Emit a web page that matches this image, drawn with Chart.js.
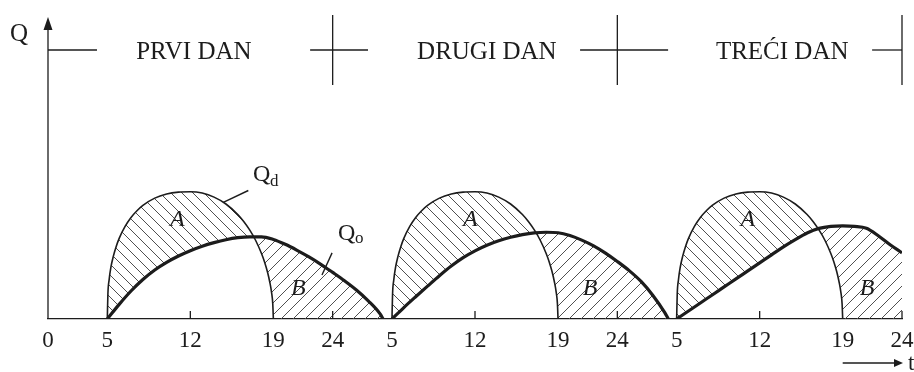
<!DOCTYPE html>
<html><head><meta charset="utf-8">
<script src="https://cdn.jsdelivr.net/npm/chart.js@4.4.1/dist/chart.umd.min.js"></script>
<style>html,body{margin:0;padding:0;background:#fff}canvas{display:block}</style>
</head><body>
<canvas id="c" width="914" height="372"></canvas>
<script>
// ---- data (hours of day, Q in % of the peak of Qd) ----
const dayLabels = ['PRVI DAN', 'DRUGI DAN', 'TREĆI DAN'];
const dayStart = [0, 24, 48];
const tickHours = [0, 5, 12, 19, 24, 29, 36, 43, 48, 53, 60, 67, 72];
const tickLabels = ['0', '5', '12', '19', '24', '5', '12', '19', '24', '5', '12', '19', '24'];

const qdHours = [5, 5.05, 5.15, 5.3, 5.5, 5.75, 6, 6.5, 7, 7.5, 8, 9, 10, 11, 12, 13, 14, 15, 16, 16.5, 17, 17.5, 18, 18.25, 18.5, 18.7, 18.85, 18.95, 19];
const qd1 = [0, 19.7, 30.6, 40.5, 49, 57, 63.4, 72.8, 79.8, 85.1, 89.3, 95, 98.2, 99.7, 100, 99, 95.8, 90.4, 82.1, 76.6, 70, 61.9, 51.5, 45, 37.1, 28.9, 20.8, 11.9, 0];
const qd2 = [0, 19.7, 30.6, 40.5, 49, 57, 63.4, 72.8, 79.8, 85.1, 89.3, 95, 98.2, 99.7, 100, 99, 95.8, 90.4, 82.1, 76.6, 70, 61.9, 51.5, 45, 37.1, 28.9, 20.8, 11.9, 0];
const qd3 = [0, 19.7, 30.6, 40.5, 49, 57, 63.4, 72.8, 79.8, 85.1, 89.3, 95, 98.2, 99.7, 100, 99, 95.8, 90.4, 82.1, 76.6, 70, 61.9, 51.5, 45, 37.1, 28.9, 20.8, 11.9, 0];

const qoHours1 = [5, 6, 7, 8, 9, 10, 11, 12, 13, 14, 15, 16, 17, 18, 19, 20, 21, 22, 23, 24, 25, 26, 27, 28, 28.25];
const qo1 = [0, 11.5, 22, 31, 38.5, 44.5, 49.5, 53.7, 57.2, 60, 62.3, 63.9, 64.6, 64.6, 62.5, 58.7, 54, 48.8, 43, 36.6, 30, 22.8, 14.3, 4, 0];
const qoHours2 = [5, 6, 7, 8, 9, 10, 11, 12, 13, 14, 15, 16, 17, 18, 19, 20, 21, 22, 23, 24, 25, 26, 27, 28, 28.3];
const qo2 = [0, 9, 17.5, 25.8, 34, 41.6, 48.2, 53.6, 58, 61.5, 64.2, 66.3, 67.7, 68.2, 67.8, 65.6, 62, 57.5, 51.8, 45.2, 38, 29.5, 18.5, 5, 0];
const qoHours3 = [5, 6, 7, 8, 9, 10, 11, 12, 13, 14, 15, 16, 17, 18, 19, 20, 21, 22, 23, 24];
const qo3 = [0, 6.3, 12.6, 18.9, 25.2, 31.5, 37.8, 44.1, 50.4, 56.7, 62.4, 67.6, 71.2, 72.8, 73.2, 72.8, 71.3, 65.4, 58.3, 52];

// ---- styling ----
const INK = '#1c1c1c';
const SERIF = '"Liberation Serif", "Times New Roman", serif';

function hatch(dir, s) {
  const c = document.createElement('canvas');
  c.width = s; c.height = s;
  const g = c.getContext('2d');
  g.strokeStyle = '#505050'; g.lineWidth = 1;
  g.beginPath();
  if (dir === 'back') {
    g.moveTo(0, 0); g.lineTo(s, s);
    g.moveTo(-2, s - 2); g.lineTo(2, s + 2);
    g.moveTo(s - 2, -2); g.lineTo(s + 2, 2);
  } else {
    g.moveTo(0, s); g.lineTo(s, 0);
    g.moveTo(-2, 2); g.lineTo(2, -2);
    g.moveTo(s - 2, s + 2); g.lineTo(s + 2, s - 2);
  }
  g.stroke();
  return document.getElementById('c').getContext('2d').createPattern(c, 'repeat');
}
const patA = hatch('back', 11);
const patB = hatch('fwd', 12);

const qdDays = [qd1, qd2, qd3];
const qoDays = [qo1, qo2, qo3];
const qoHourDays = [qoHours1, qoHours2, qoHours3];

const pts = (hours, vals, d) => hours.map((h, i) => ({ x: h + dayStart[d], y: vals[i] }));

const datasets = [];
// Qo lines: indexes 0..2
for (let d = 0; d < 3; d++) {
  datasets.push({
    label: 'Qo ' + dayLabels[d], data: pts(qoHourDays[d], qoDays[d], d),
    borderColor: INK, borderWidth: 3.2, pointRadius: 0, fill: false,
    cubicInterpolationMode: 'monotone', order: 1
  });
}
// Qd lines: indexes 3..5
for (let d = 0; d < 3; d++) {
  datasets.push({
    label: 'Qd ' + dayLabels[d], data: pts(qdHours, qdDays[d], d),
    borderColor: INK, borderWidth: 1.6, pointRadius: 0, fill: false,
    cubicInterpolationMode: 'monotone', order: 2
  });
}
// hatched areas A (Qd above Qo) and B (Qo above Qd): indexes 6..8
for (let d = 0; d < 3; d++) {
  const tail = qoHourDays[d].filter(h => h > qdHours[qdHours.length - 1]);
  datasets.push({
    label: 'A/B ' + dayLabels[d],
    data: pts(qdHours, qdDays[d], d).concat(tail.map(h => ({ x: h + dayStart[d], y: 0 }))),
    borderWidth: 0, borderColor: 'rgba(0,0,0,0)', pointRadius: 0,
    cubicInterpolationMode: 'monotone',
    fill: { target: d, above: patA, below: patB }, order: 5
  });
}

const labelsAB = [
  { t: 'A', h: 10.9, q: 78 }, { t: 'B', h: 21.1, q: 24 },
  { t: 'A', h: 35.6, q: 78 }, { t: 'B', h: 45.7, q: 24 },
  { t: 'A', h: 59.0, q: 78 }, { t: 'B', h: 69.05, q: 24 }
];

const deco = {
  id: 'deco',
  afterDraw(chart) {
    const { ctx, chartArea: a, scales: { x, y } } = chart;
    ctx.save();
    ctx.strokeStyle = INK; ctx.fillStyle = INK; ctx.lineCap = 'butt';
    // y axis with arrow
    ctx.lineWidth = 1.3;
    ctx.beginPath(); ctx.moveTo(a.left, a.bottom); ctx.lineTo(a.left, a.top + 8); ctx.stroke();
    ctx.beginPath(); ctx.moveTo(a.left, a.top - 3); ctx.lineTo(a.left - 4.5, a.top + 10);
    ctx.lineTo(a.left + 4.5, a.top + 10); ctx.closePath(); ctx.fill();
    // small tick marks at 12 and 24 h
    ctx.lineWidth = 1.3;
    tickHours.forEach((h, i) => {
      if (tickLabels[i] === '12' || tickLabels[i] === '24') {
        const px = x.getPixelForValue(h);
        ctx.beginPath(); ctx.moveTo(px, a.bottom); ctx.lineTo(px, a.bottom - 8); ctx.stroke();
      }
    });
    // header: day separators
    const hy = 50;
    ctx.lineWidth = 1.3;
    [[0, 4.13], [22.1, 26.98], [44.86, 52.28], [69.48, 72]].forEach(([h0, h1]) => {
      ctx.beginPath(); ctx.moveTo(x.getPixelForValue(h0), hy); ctx.lineTo(x.getPixelForValue(h1), hy); ctx.stroke();
    });
    [24, 48, 72].forEach(h => {
      const px = x.getPixelForValue(h);
      ctx.beginPath(); ctx.moveTo(px, 15); ctx.lineTo(px, 85); ctx.stroke();
    });
    ctx.font = '25px ' + SERIF; ctx.textAlign = 'center'; ctx.textBaseline = 'alphabetic';
    [12.3, 37.0, 61.9].forEach((h, i) => ctx.fillText(dayLabels[i], x.getPixelForValue(h), 59));
    // Q axis label
    ctx.fillText('Q', 19, 41);
    // A / B labels
    ctx.font = 'italic 24px ' + SERIF; ctx.textBaseline = 'middle';
    labelsAB.forEach(l => ctx.fillText(l.t, x.getPixelForValue(l.h), y.getPixelForValue(l.q)));
    // Qd, Qo labels with leader lines
    ctx.lineWidth = 1.4;
    ctx.beginPath(); ctx.moveTo(x.getPixelForValue(14.78), y.getPixelForValue(91.6));
    ctx.lineTo(x.getPixelForValue(16.89), y.getPixelForValue(101)); ctx.stroke();
    ctx.beginPath(); ctx.moveTo(x.getPixelForValue(23.1), y.getPixelForValue(34.6));
    ctx.lineTo(x.getPixelForValue(23.95), y.getPixelForValue(52)); ctx.stroke();
    ctx.textAlign = 'left'; ctx.textBaseline = 'alphabetic';
    ctx.font = '24px ' + SERIF;
    ctx.fillText('Q', x.getPixelForValue(17.28), y.getPixelForValue(108.7));
    ctx.fillText('Q', x.getPixelForValue(24.45), y.getPixelForValue(62.2));
    ctx.font = '17px ' + SERIF;
    ctx.fillText('d', x.getPixelForValue(17.28) + 17, y.getPixelForValue(108.7) + 5);
    ctx.fillText('o', x.getPixelForValue(24.45) + 17, y.getPixelForValue(62.2) + 3);
    // time arrow
    const ay = 363;
    ctx.lineWidth = 1.5;
    ctx.beginPath(); ctx.moveTo(x.getPixelForValue(67), ay); ctx.lineTo(a.right - 5, ay); ctx.stroke();
    ctx.beginPath(); ctx.moveTo(a.right + 1, ay); ctx.lineTo(a.right - 8, ay - 4); ctx.lineTo(a.right - 8, ay + 4);
    ctx.closePath(); ctx.fill();
    ctx.font = '23px ' + SERIF;
    ctx.fillText('t', a.right + 6, 370);
    ctx.restore();
  }
};

new Chart(document.getElementById('c'), {
  type: 'line',
  data: { datasets },
  options: {
    responsive: false, animation: false, devicePixelRatio: 1,
    layout: { padding: { left: 48, right: 12, top: 20, bottom: 0 } },
    plugins: { legend: { display: false }, tooltip: { enabled: false } },
    scales: {
      x: {
        type: 'linear', min: 0, max: 72,
        afterBuildTicks(s) { s.ticks = tickHours.map(v => ({ value: v })); },
        afterFit(s) { s.height = 53; s.paddingLeft = 0; s.paddingRight = 0; },
        ticks: {
          autoSkip: false, maxRotation: 0, padding: 8, color: INK,
          font: { family: SERIF, size: 23 },
          callback: (v, i) => tickLabels[i]
        },
        grid: { display: false, drawTicks: false },
        border: { display: true, color: INK, width: 1.3 }
      },
      y: { display: false, min: 0, max: 235 }
    }
  },
  plugins: [deco]
});
</script>
</body></html>
